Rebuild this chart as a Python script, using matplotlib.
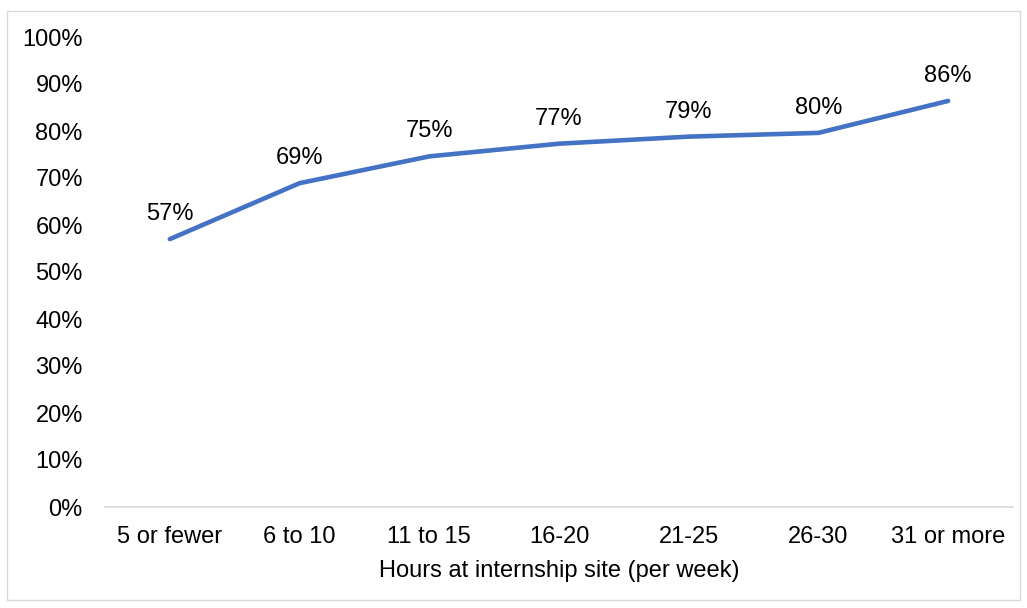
import matplotlib.pyplot as plt
from matplotlib.patches import Rectangle

plt.rcParams['font.family'] = ['Liberation Sans', 'DejaVu Sans']

categories = ['5 or fewer', '6 to 10', '11 to 15', '16-20', '21-25', '26-30', '31 or more']
values = [57.0, 68.9, 74.6, 77.3, 78.8, 79.6, 86.4]
yticks = list(range(0, 101, 10))

fig = plt.figure(figsize=(10.27, 6.08), dpi=100)
ax = fig.add_axes([105/1027, 1-507/608, (1013-105)/1027, (507-37)/608])

x = list(range(len(categories)))
ax.plot(x, values, color='#4472C4', linewidth=3.3, solid_capstyle='round')
for xi, v in zip(x, values):
    ax.annotate(f'{round(v)}%', (xi, v), xytext=(0, 10), textcoords='offset points',
                ha='center', va='bottom', fontsize=17, color='#000000')

ax.set_xlim(-0.5, len(categories) - 0.5)
ax.set_ylim(0, 100)
ax.set_yticks(yticks)
ax.set_yticklabels([f'{t}%' for t in yticks])
ax.set_xticks(x)
ax.set_xticklabels(categories)
ax.tick_params(axis='y', length=0, pad=16, labelsize=17)
ax.tick_params(axis='x', length=0, pad=14, labelsize=17)
ax.set_xlabel('Hours at internship site (per week)', fontsize=17, labelpad=8)

for s in ['top', 'right', 'left']:
    ax.spines[s].set_visible(False)
ax.spines['bottom'].set_color('#D9D9D9')
ax.spines['bottom'].set_linewidth(1.2)

fig.patches.append(Rectangle((7/1027, 1-600/608), (1020-7)/1027, (600-11)/608,
                             transform=fig.transFigure, fill=False,
                             edgecolor='#D9D9D9', linewidth=1))

plt.savefig('out.png', dpi=100)
